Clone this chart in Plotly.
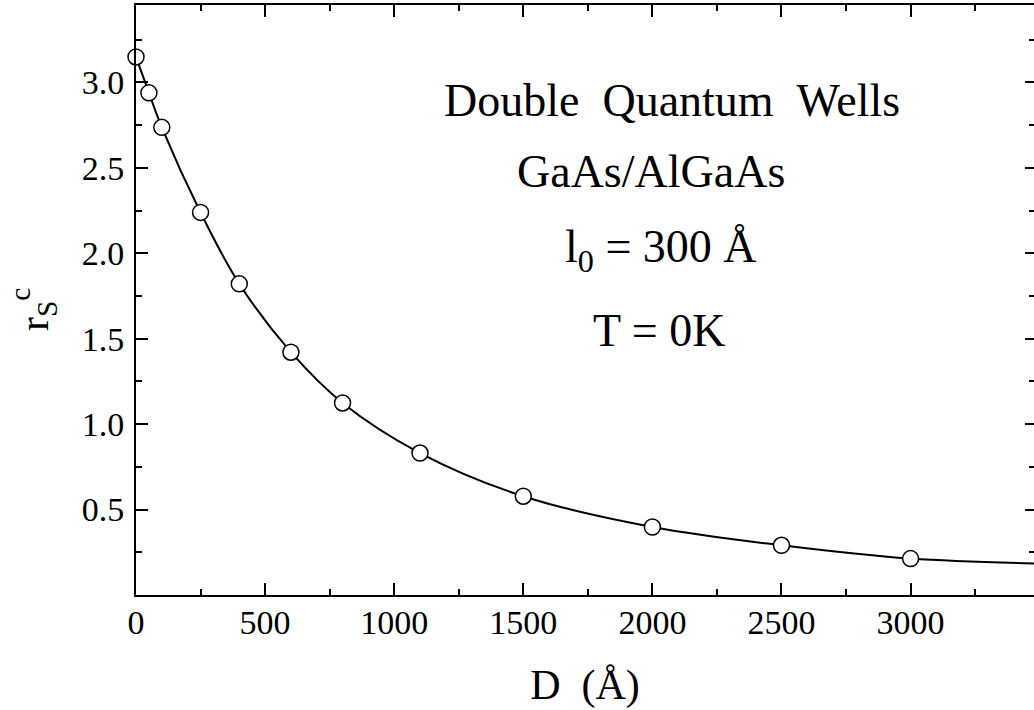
import plotly.graph_objects as go

# Critical r_s versus layer separation D (double quantum wells)
D_values = [0, 50, 100, 250, 400, 600, 800, 1100, 1500, 2000, 2500, 3000]
rs_values = [3.149, 2.939, 2.737, 2.239, 1.821, 1.421, 1.124, 0.831, 0.578, 0.398, 0.291, 0.213]

# Smooth guide curve through the points, continued to the axis end
curve_D = D_values + [3500]
curve_rs = rs_values + [0.184]

x_tick_vals = [0, 500, 1000, 1500, 2000, 2500, 3000]
y_tick_vals = [0.5, 1.0, 1.5, 2.0, 2.5, 3.0]

label_lines = [
    ("Double\u00a0\u00a0Quantum\u00a0\u00a0Wells", 0.597, 0.838),
    ("GaAs/AlGaAs", 0.574, 0.718),
    ("l<sub>0</sub> = 300 Å", 0.585, 0.585),
    ("T = 0K", 0.582, 0.449),
]

FONT = "Liberation Serif, Times New Roman, serif"
X_MAX = 3478
Y_MAX = 3.453

fig = go.Figure()

fig.add_trace(go.Scatter(
    x=curve_D, y=curve_rs, mode="lines",
    line=dict(color="black", width=2, shape="spline", smoothing=1.0),
    hoverinfo="skip", showlegend=False,
))

fig.add_trace(go.Scatter(
    x=D_values, y=rs_values, mode="markers",
    marker=dict(symbol="circle", size=16, color="white",
                line=dict(color="black", width=1.5)),
    showlegend=False, cliponaxis=False,
))

# right-hand ticks only (no line), on an overlaid axis
fig.add_trace(go.Scatter(x=[None], y=[None], yaxis="y2", showlegend=False,
                         hoverinfo="skip"))

for text, xp, yp in label_lines:
    fig.add_annotation(
        text=text, x=xp, y=yp, xref="paper", yref="paper",
        xanchor="center", yanchor="middle", showarrow=False,
        font=dict(family=FONT, size=46, color="black"),
    )

# y-axis title, rotated
fig.add_annotation(
    text="r<sub>S</sub><sup>c</sup>", x=-0.114, y=0.484,
    xref="paper", yref="paper", xanchor="center", yanchor="middle",
    textangle=-90, showarrow=False,
    font=dict(family=FONT, size=42, color="black"),
)

axis_common = dict(
    showgrid=False, zeroline=False,
    ticks="inside", ticklen=12, tickwidth=2, tickcolor="black",
    tickfont=dict(family=FONT, size=34, color="black"),
)

fig.update_layout(
    width=1034, height=710,
    margin=dict(l=136, r=0, t=5, b=115),
    plot_bgcolor="white", paper_bgcolor="white",
    font=dict(family=FONT, color="black"),
    xaxis=dict(
        range=[0, X_MAX], tickvals=x_tick_vals,
        showline=True, linecolor="black", linewidth=2, mirror="ticks",
        minor=dict(dtick=250, tick0=0, ticks="inside", ticklen=6,
                   tickwidth=2, tickcolor="black"),
        title=dict(text="D\u00a0\u00a0(Å)", font=dict(family=FONT, size=42),
                   standoff=30),
        ticklabelstandoff=-4,
        **axis_common,
    ),
    yaxis=dict(
        range=[0, Y_MAX], tickvals=y_tick_vals, tickformat=".1f",
        showline=True, linecolor="black", linewidth=2, mirror=False,
        minor=dict(dtick=0.25, tick0=0, ticks="inside", ticklen=6,
                   tickwidth=2, tickcolor="black"),
        ticklabelstandoff=3,
        **axis_common,
    ),
    yaxis2=dict(
        overlaying="y", side="right", range=[0, Y_MAX],
        tickvals=y_tick_vals, showticklabels=False, showline=False,
        showgrid=False, zeroline=False,
        ticks="inside", ticklen=9, tickwidth=2, tickcolor="black",
        minor=dict(dtick=0.25, tick0=0, ticks="inside", ticklen=5,
                   tickwidth=2, tickcolor="black"),
    ),
)

fig.write_html("out.html")
